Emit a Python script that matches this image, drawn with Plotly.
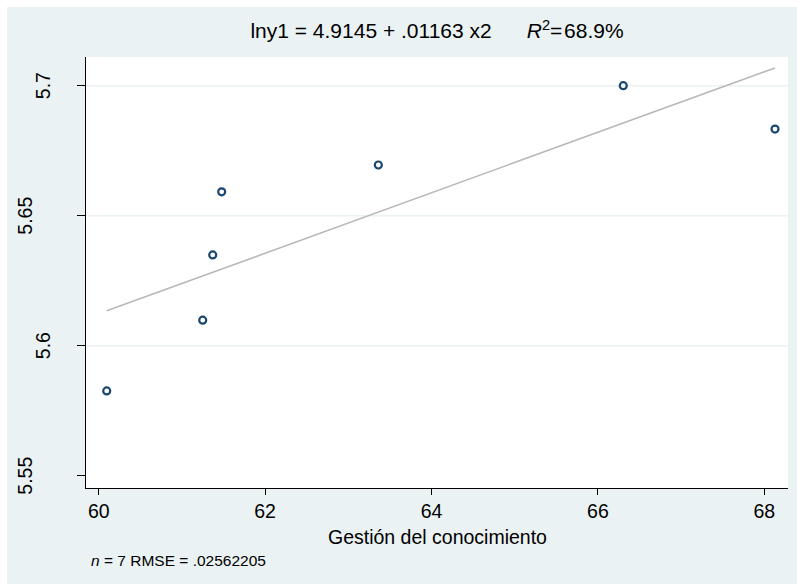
import plotly.graph_objects as go

# ---- data ----
x_vals = [60.096, 61.25, 61.37, 61.478, 63.361, 66.305, 68.129]
lny1 = [5.5826, 5.6098, 5.6349, 5.6592, 5.6695, 5.7000, 5.6833]
intercept = 4.9145
slope = 0.01163
r2_text = "68.9%"
n_obs = 7
rmse_text = ".02562205"
x_ticks = [60, 62, 64, 66, 68]
y_ticks = [5.55, 5.6, 5.65, 5.7]
y_tick_text = ["5.55", "5.6", "5.65", "5.7"]
grid_vals = [5.6, 5.65, 5.7]
x_title = "Gestión del conocimiento"

# ---- style ----
FONT = "Arial, Liberation Sans, sans-serif"
BG = "#eaf2f3"
NAVY = "#1a476f"
W, H = 797, 584
ML, MR, MT, MB = 86, 9, 57, 96
PW, PH = W - ML - MR, H - MT - MB

def px_x(p):
    return (p - ML) / PW

def px_y(p):
    return (H - MB - p) / PH

fit_x = [min(x_vals), max(x_vals)]
fit_y = [intercept + slope * v for v in fit_x]

fig = go.Figure()
fig.add_trace(go.Scatter(
    x=fit_x, y=fit_y, mode="lines",
    line=dict(color="#b9b9b9", width=1.6), hoverinfo="skip", showlegend=False))
fig.add_trace(go.Scatter(
    x=x_vals, y=lny1, mode="markers",
    marker=dict(symbol="circle-open", size=7, color=NAVY, line=dict(width=2.2, color=NAVY)),
    showlegend=False))

shapes = []
for g in grid_vals:
    shapes.append(dict(type="line", xref="paper", yref="y", x0=0, x1=1, y0=g, y1=g,
                       line=dict(color="#eaf2f3", width=1.5), layer="below"))
# white outer border strips (left and top)
shapes.append(dict(type="rect", xref="paper", yref="paper", x0=px_x(-5), x1=px_x(7),
                   y0=px_y(H + 5), y1=px_y(-5), fillcolor="white", line=dict(width=0), layer="below"))
shapes.append(dict(type="rect", xref="paper", yref="paper", x0=px_x(-5), x1=px_x(W + 5),
                   y0=px_y(7), y1=px_y(-5), fillcolor="white", line=dict(width=0), layer="below"))

annotations = []
for i, (v, t) in enumerate(zip(y_ticks, y_tick_text)):
    cx = 25 if i % 2 == 0 else 42.5
    annotations.append(dict(text=t, xref="paper", yref="y", x=px_x(cx), y=v,
                            textangle=-90, showarrow=False, xanchor="center", yanchor="middle",
                            font=dict(family=FONT, size=19.5, color="black")))
annotations.append(dict(
    text=f"<i>n</i> = {n_obs} RMSE = {rmse_text}", xref="paper", yref="paper",
    x=px_x(89), y=px_y(560), xanchor="left", yanchor="middle", showarrow=False,
    font=dict(family=FONT, size=15.5, color="black")))
annotations.append(dict(
    text=x_title, xref="paper", yref="paper", x=0.5, y=px_y(537), xanchor="center",
    yanchor="middle", showarrow=False, font=dict(family=FONT, size=19.5, color="black")))

title_text = (f"lny1 = {intercept} + {str(slope).lstrip('0')} x2"
              f"      <i>R</i><sup>2</sup>=\u200a{r2_text}")

fig.update_layout(
    width=W, height=H, autosize=False,
    margin=dict(l=ML, r=MR, t=MT, b=MB, pad=0),
    paper_bgcolor=BG, plot_bgcolor="white",
    title=dict(text=title_text, x=437 / W, xanchor="center",
               y=1 - 31 / H, yanchor="middle", yref="container",
               font=dict(family=FONT, size=21, color="black")),
    xaxis=dict(range=[59.847, 68.285], tickvals=x_ticks, showgrid=False, zeroline=False,
               showline=True, linecolor="black", linewidth=1, ticks="outside", ticklen=6,
               tickcolor="black", tickfont=dict(family=FONT, size=19.5, color="black")),
    yaxis=dict(range=[5.54527, 5.71104], tickvals=y_ticks, showticklabels=False,
               showgrid=False, zeroline=False, showline=True, linecolor="black", linewidth=1,
               ticks="outside", ticklen=8, tickcolor="black"),
    shapes=shapes, annotations=annotations,
)

fig.write_html("out.html")
